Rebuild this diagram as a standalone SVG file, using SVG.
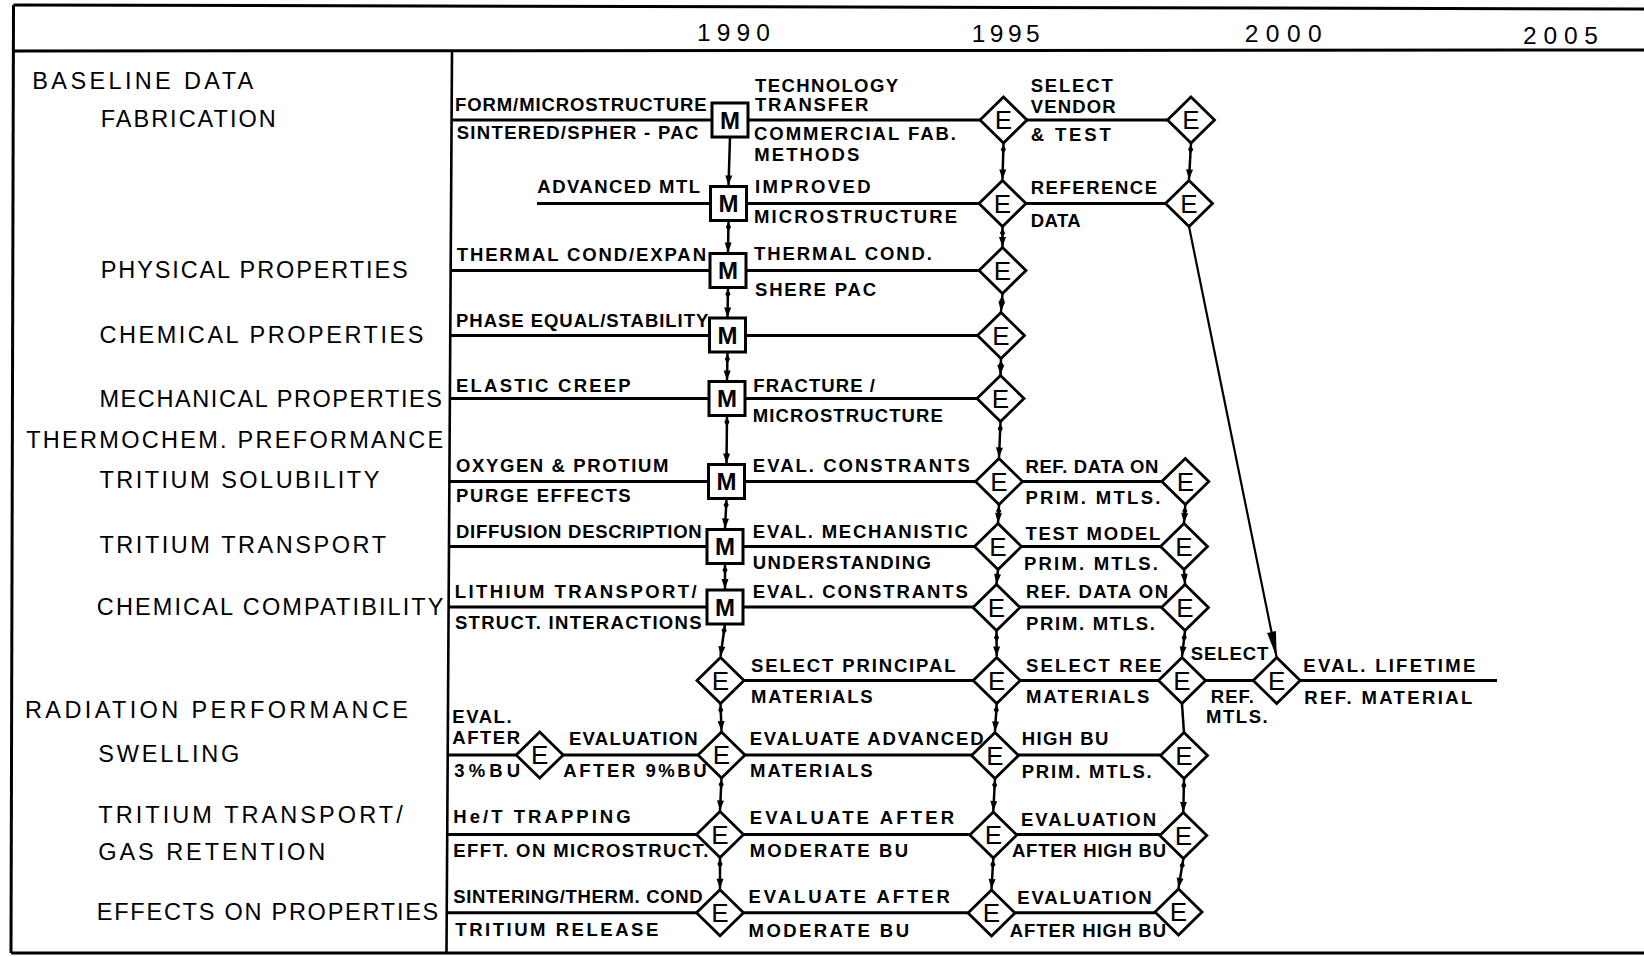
<svg xmlns="http://www.w3.org/2000/svg" width="1644" height="957" viewBox="0 0 1644 957">
<defs>
<style>
.frame{stroke:#000;stroke-width:3;fill:none}
.row{stroke:#000;stroke-width:3;fill:none}
.vc{stroke:#000;stroke-width:2.5;fill:none;marker-start:url(#tail);marker-end:url(#arrow)}
.vc-a{stroke:#000;stroke-width:2.5;fill:none;marker-end:url(#arrow)}
.vc-p{stroke:#000;stroke-width:2.5;fill:none}
.diag{stroke:#000;stroke-width:2.2;fill:none;marker-end:url(#arrowLong)}
.box{fill:#fff;stroke:#000;stroke-width:3}
.dia{fill:#fff;stroke:#000;stroke-width:2.8;stroke-linejoin:miter}
text{font-family:"Liberation Sans",Arial,sans-serif;fill:#000}
.yr{font-size:24.5px}
.cat{font-size:23.5px}
.lbl{font-size:18.5px;font-weight:bold}
.nm{font-size:24px;font-weight:bold;text-anchor:middle}
.ne{font-size:26px;text-anchor:middle}
</style>
<marker id="arrow" markerUnits="userSpaceOnUse" orient="auto" refX="10" refY="0" markerWidth="12" markerHeight="10" overflow="visible">
<path d="M0,-3.5 L10,0 L0,3.5 Z" fill="#000"/>
</marker>
<marker id="tail" markerUnits="userSpaceOnUse" orient="auto" refX="-2" refY="0" markerWidth="12" markerHeight="8" overflow="visible">
<path d="M0,0 L4.5,-2.6 L9,0 L4.5,2.6 Z" fill="#000"/>
</marker>
<marker id="arrowLong" markerUnits="userSpaceOnUse" orient="auto" refX="26" refY="0" markerWidth="28" markerHeight="12" overflow="visible">
<path d="M0,-4.5 L26,0 L0,4.5 Z" fill="#000"/>
</marker>
</defs>

<rect width="1644" height="957" fill="#fff"/>

<!-- table frame -->
<g id="frame">
<line class="frame" x1="13.5" y1="5" x2="1644" y2="9"/>
<line class="frame" x1="13.5" y1="51" x2="1644" y2="50"/>
<line class="frame" x1="11" y1="953" x2="1644" y2="953"/>
<line class="frame" x1="13.5" y1="5" x2="11" y2="953"/>
<line class="frame" x1="452" y1="51" x2="446.5" y2="953" style="stroke-width:2.6"/>
</g>

<!-- time axis -->
<g id="years">
<text class="yr" x="697" y="40.5" textLength="73">1990</text>
<text class="yr" x="971.7" y="41.5" textLength="68">1995</text>
<text class="yr" x="1244.7" y="41.5" textLength="77">2000</text>
<text class="yr" x="1523" y="43.5" textLength="75">2005</text>
</g>

<!-- task categories -->
<g id="categories">
<text class="cat" x="32.3" y="89.3" textLength="221">BASELINE DATA</text>
<text class="cat" x="100.7" y="126.7" textLength="175">FABRICATION</text>
<text class="cat" x="100.7" y="278.3" textLength="307">PHYSICAL PROPERTIES</text>
<text class="cat" x="99.4" y="343" textLength="324">CHEMICAL PROPERTIES</text>
<text class="cat" x="99.4" y="406.7" textLength="342.6">MECHANICAL PROPERTIES</text>
<text class="cat" x="26.2" y="448.3" textLength="417">THERMOCHEM. PREFORMANCE</text>
<text class="cat" x="99.4" y="487.7" textLength="280">TRITIUM SOLUBILITY</text>
<text class="cat" x="99.4" y="553.3" textLength="286.6">TRITIUM TRANSPORT</text>
<text class="cat" x="96.8" y="615" textLength="346.7">CHEMICAL COMPATIBILITY</text>
<text class="cat" x="25" y="718.3" textLength="383">RADIATION PERFORMANCE</text>
<text class="cat" x="98.3" y="761.7" textLength="141">SWELLING</text>
<text class="cat" x="98.3" y="823.3" textLength="304.4">TRITIUM TRANSPORT/</text>
<text class="cat" x="98.3" y="860" textLength="227">GAS RETENTION</text>
<text class="cat" x="96.8" y="920" textLength="341.5">EFFECTS ON PROPERTIES</text>
</g>

<!-- connectors -->
<g id="connectors">
<!-- task rows -->
<line class="row" x1="451.6" y1="120" x2="1167.5" y2="120"/>
<line class="row" x1="537" y1="203.5" x2="1165.5" y2="203.5"/>
<line class="row" x1="451.2" y1="270.5" x2="979" y2="270.5"/>
<line class="row" x1="450.8" y1="335.5" x2="977.5" y2="335.5"/>
<line class="row" x1="450.5" y1="398.5" x2="977" y2="398.5"/>
<line class="row" x1="449.5" y1="481.5" x2="1161.8" y2="481.5"/>
<line class="row" x1="449" y1="546.5" x2="1160.5" y2="546.5"/>
<line class="row" x1="448.5" y1="607" x2="1161.5" y2="607"/>
<line class="row" x1="744" y1="680.5" x2="1497" y2="680.5"/>
<line class="row" x1="447.7" y1="755" x2="1160.5" y2="755"/>
<line class="row" x1="447.2" y1="834.5" x2="1159.8" y2="834.5"/>
<line class="row" x1="446.7" y1="912.7" x2="1155" y2="912.7"/>

<!-- 1990 milestone column -->
<line class="vc-a" x1="730" y1="137" x2="728.5" y2="185.5"/>
<line class="vc" x1="728.5" y1="220.5" x2="728" y2="252.5"/>
<line class="vc" x1="728" y1="287.5" x2="727.5" y2="317.5"/>
<line class="vc" x1="727.5" y1="352.5" x2="727" y2="380.5"/>
<line class="vc" x1="727" y1="415.5" x2="726.5" y2="463.5"/>
<line class="vc" x1="726.5" y1="498.5" x2="725" y2="528.5"/>
<line class="vc" x1="725" y1="563.5" x2="725" y2="589"/>
<line class="vc" x1="725" y1="624" x2="720.5" y2="656.5"/>
<line class="vc" x1="720.5" y1="703.5" x2="721.5" y2="731"/>
<line class="vc" x1="721.5" y1="778" x2="720" y2="810.5"/>
<line class="vc" x1="720" y1="857.5" x2="720" y2="888.7"/>

<!-- 1995 evaluation column -->
<line class="vc" x1="1003.5" y1="143" x2="1002.5" y2="179.5"/>
<line class="vc" x1="1002.5" y1="226.5" x2="1002.5" y2="247"/>
<line class="vc" x1="1002.5" y1="294" x2="1001" y2="311.5"/>
<line class="vc" x1="1001" y1="358.5" x2="1000.5" y2="375"/>
<line class="vc" x1="1000.5" y1="422" x2="999" y2="457.5"/>
<line class="vc" x1="999" y1="504.5" x2="998" y2="523"/>
<line class="vc" x1="998" y1="570" x2="996.5" y2="584"/>
<line class="vc" x1="996.5" y1="631" x2="996.7" y2="656.5"/>
<line class="vc" x1="996.7" y1="703.5" x2="995" y2="731.5"/>
<line class="vc" x1="995" y1="778.5" x2="993.3" y2="811"/>
<line class="vc" x1="993.3" y1="858" x2="991.5" y2="889"/>

<!-- 2000 evaluation column -->
<line class="vc" x1="1191" y1="143" x2="1189" y2="179.5"/>
<line class="vc" x1="1185.3" y1="504.5" x2="1184" y2="523"/>
<line class="vc" x1="1184" y1="570" x2="1185" y2="584"/>
<line class="vc" x1="1185" y1="631" x2="1182" y2="656.5"/>
<line class="vc-p" x1="1182" y1="704" x2="1184" y2="733"/>
<line class="vc" x1="1184" y1="779" x2="1183.3" y2="812"/>
<line class="vc" x1="1183.3" y1="859" x2="1178.5" y2="888"/>

<!-- reference data feeding lifetime evaluation -->
<line class="diag" x1="1189" y1="226.5" x2="1276.7" y2="657.5"/>
</g>

<!-- milestone nodes -->
<g id="m1" transform="translate(730,120)"><rect class="box" x="-18" y="-17" width="36" height="34"/><text class="nm" y="8.6">M</text></g>
<g id="m2" transform="translate(728.5,203.5)"><rect class="box" x="-18" y="-17" width="36" height="34"/><text class="nm" y="8.6">M</text></g>
<g id="m3" transform="translate(728,270.5)"><rect class="box" x="-18" y="-17" width="36" height="34"/><text class="nm" y="8.6">M</text></g>
<g id="m4" transform="translate(727.5,335)"><rect class="box" x="-18" y="-17" width="36" height="34"/><text class="nm" y="8.6">M</text></g>
<g id="m5" transform="translate(727,398.5)"><rect class="box" x="-18" y="-17" width="36" height="34"/><text class="nm" y="8.6">M</text></g>
<g id="m6" transform="translate(726.5,481.5)"><rect class="box" x="-18" y="-17" width="36" height="34"/><text class="nm" y="8.6">M</text></g>
<g id="m7" transform="translate(725,546.5)"><rect class="box" x="-18" y="-17" width="36" height="34"/><text class="nm" y="8.6">M</text></g>
<g id="m8" transform="translate(725,607)"><rect class="box" x="-18" y="-17" width="36" height="34"/><text class="nm" y="8.6">M</text></g>

<!-- evaluation nodes, 1990 column -->
<g id="e9a" transform="translate(720.5,680.5)"><polygon class="dia" points="0,-23 23.5,0 0,23 -23.5,0"/><text class="ne" y="9.3">E</text></g>
<g id="e10a" transform="translate(721.5,755)"><polygon class="dia" points="0,-23 23.5,0 0,23 -23.5,0"/><text class="ne" y="9.3">E</text></g>
<g id="e11a" transform="translate(720,834.5)"><polygon class="dia" points="0,-23 23.5,0 0,23 -23.5,0"/><text class="ne" y="9.3">E</text></g>
<g id="e12a" transform="translate(720,912.7)"><polygon class="dia" points="0,-23 23.5,0 0,23 -23.5,0"/><text class="ne" y="9.3">E</text></g>
<g id="e10s" transform="translate(539.7,755)"><polygon class="dia" points="0,-23 23.5,0 0,23 -23.5,0"/><text class="ne" y="9.3">E</text></g>

<!-- evaluation nodes, 1995 column -->
<g id="e1b" transform="translate(1003.5,120)"><polygon class="dia" points="0,-23 23.5,0 0,23 -23.5,0"/><text class="ne" y="9.3">E</text></g>
<g id="e2b" transform="translate(1002.5,203.5)"><polygon class="dia" points="0,-23 23.5,0 0,23 -23.5,0"/><text class="ne" y="9.3">E</text></g>
<g id="e3b" transform="translate(1002.5,270.5)"><polygon class="dia" points="0,-23 23.5,0 0,23 -23.5,0"/><text class="ne" y="9.3">E</text></g>
<g id="e4b" transform="translate(1001,335.5)"><polygon class="dia" points="0,-23 23.5,0 0,23 -23.5,0"/><text class="ne" y="9.3">E</text></g>
<g id="e5b" transform="translate(1000.5,398.5)"><polygon class="dia" points="0,-23 23.5,0 0,23 -23.5,0"/><text class="ne" y="9.3">E</text></g>
<g id="e6b" transform="translate(999,481.5)"><polygon class="dia" points="0,-23 23.5,0 0,23 -23.5,0"/><text class="ne" y="9.3">E</text></g>
<g id="e7b" transform="translate(998,546.5)"><polygon class="dia" points="0,-23 23.5,0 0,23 -23.5,0"/><text class="ne" y="9.3">E</text></g>
<g id="e8b" transform="translate(996.5,607.5)"><polygon class="dia" points="0,-23 23.5,0 0,23 -23.5,0"/><text class="ne" y="9.3">E</text></g>
<g id="e9b" transform="translate(996.7,680.5)"><polygon class="dia" points="0,-23 23.5,0 0,23 -23.5,0"/><text class="ne" y="9.3">E</text></g>
<g id="e10b" transform="translate(995,755.5)"><polygon class="dia" points="0,-23 23.5,0 0,23 -23.5,0"/><text class="ne" y="9.3">E</text></g>
<g id="e11b" transform="translate(993.3,835)"><polygon class="dia" points="0,-23 23.5,0 0,23 -23.5,0"/><text class="ne" y="9.3">E</text></g>
<g id="e12b" transform="translate(991.5,913)"><polygon class="dia" points="0,-23 23.5,0 0,23 -23.5,0"/><text class="ne" y="9.3">E</text></g>

<!-- evaluation nodes, 2000 column -->
<g id="e1c" transform="translate(1191,120)"><polygon class="dia" points="0,-23 23.5,0 0,23 -23.5,0"/><text class="ne" y="9.3">E</text></g>
<g id="e2c" transform="translate(1189,203.5)"><polygon class="dia" points="0,-23 23.5,0 0,23 -23.5,0"/><text class="ne" y="9.3">E</text></g>
<g id="e6c" transform="translate(1185.3,481.5)"><polygon class="dia" points="0,-23 23.5,0 0,23 -23.5,0"/><text class="ne" y="9.3">E</text></g>
<g id="e7c" transform="translate(1184,546.5)"><polygon class="dia" points="0,-23 23.5,0 0,23 -23.5,0"/><text class="ne" y="9.3">E</text></g>
<g id="e8c" transform="translate(1185,607.5)"><polygon class="dia" points="0,-23 23.5,0 0,23 -23.5,0"/><text class="ne" y="9.3">E</text></g>
<g id="e9c" transform="translate(1182,680.5)"><polygon class="dia" points="0,-23 23.5,0 0,23 -23.5,0"/><text class="ne" y="9.3">E</text></g>
<g id="e10c" transform="translate(1184,755.5)"><polygon class="dia" points="0,-23 23.5,0 0,23 -23.5,0"/><text class="ne" y="9.3">E</text></g>
<g id="e11c" transform="translate(1183.3,835.5)"><polygon class="dia" points="0,-23 23.5,0 0,23 -23.5,0"/><text class="ne" y="9.3">E</text></g>
<g id="e12c" transform="translate(1178.5,912)"><polygon class="dia" points="0,-23 23.5,0 0,23 -23.5,0"/><text class="ne" y="9.3">E</text></g>
<g id="e9d" transform="translate(1276.7,680.5)"><polygon class="dia" points="0,-23 23.5,0 0,23 -23.5,0"/><text class="ne" y="9.3">E</text></g>

<!-- task labels along the rows -->
<g id="labels">
<text class="lbl" x="455" y="110.7" textLength="251.7">FORM/MICROSTRUCTURE</text>
<text class="lbl" x="456.7" y="139" textLength="241.7">SINTERED/SPHER - PAC</text>
<text class="lbl" x="755" y="91.7" textLength="143">TECHNOLOGY</text>
<text class="lbl" x="755" y="111" textLength="113.3">TRANSFER</text>
<text class="lbl" x="754" y="140" textLength="202">COMMERCIAL FAB.</text>
<text class="lbl" x="754.3" y="161" textLength="105">METHODS</text>
<text class="lbl" x="1030.7" y="92" textLength="82">SELECT</text>
<text class="lbl" x="1030.7" y="112.7" textLength="85">VENDOR</text>
<text class="lbl" x="1030.7" y="140.7" textLength="80">&amp; TEST</text>

<text class="lbl" x="537.3" y="192.7" textLength="162.7">ADVANCED MTL</text>
<text class="lbl" x="755" y="192.7" textLength="115.7">IMPROVED</text>
<text class="lbl" x="754" y="223" textLength="203">MICROSTRUCTURE</text>
<text class="lbl" x="1030.7" y="194" textLength="126.3">REFERENCE</text>
<text class="lbl" x="1030.7" y="226.7" textLength="50">DATA</text>

<text class="lbl" x="456.7" y="261" textLength="249.3">THERMAL COND/EXPAN</text>
<text class="lbl" x="754" y="260" textLength="178">THERMAL COND.</text>
<text class="lbl" x="755" y="295.7" textLength="121">SHERE PAC</text>

<text class="lbl" x="456" y="326.7" textLength="252.3">PHASE EQUAL/STABILITY</text>

<text class="lbl" x="456" y="391.7" textLength="174.7">ELASTIC CREEP</text>
<text class="lbl" x="753.3" y="391.7" textLength="121.7">FRACTURE /</text>
<text class="lbl" x="752.8" y="421.7" textLength="190">MICROSTRUCTURE</text>

<text class="lbl" x="456" y="472.3" textLength="212.3">OXYGEN &amp; PROTIUM</text>
<text class="lbl" x="456" y="502.3" textLength="174.7">PURGE EFFECTS</text>
<text class="lbl" x="752.8" y="472" textLength="217">EVAL. CONSTRANTS</text>
<text class="lbl" x="1025.4" y="473.3" textLength="133">REF. DATA ON</text>
<text class="lbl" x="1025.4" y="504" textLength="135">PRIM. MTLS.</text>

<text class="lbl" x="456" y="538.3" textLength="245.7">DIFFUSION DESCRIPTION</text>
<text class="lbl" x="752.8" y="538.3" textLength="215">EVAL. MECHANISTIC</text>
<text class="lbl" x="752.8" y="569" textLength="178">UNDERSTANDING</text>
<text class="lbl" x="1025.4" y="540" textLength="135">TEST MODEL</text>
<text class="lbl" x="1024" y="570" textLength="134">PRIM. MTLS.</text>

<text class="lbl" x="454.7" y="598.3" textLength="242">LITHIUM TRANSPORT/</text>
<text class="lbl" x="455" y="629" textLength="246.5">STRUCT. INTERACTIONS</text>
<text class="lbl" x="752.8" y="598.3" textLength="215">EVAL. CONSTRANTS</text>
<text class="lbl" x="1026" y="598.3" textLength="142">REF. DATA ON</text>
<text class="lbl" x="1026" y="630" textLength="129">PRIM. MTLS.</text>

<text class="lbl" x="751" y="671.7" textLength="204.5">SELECT PRINCIPAL</text>
<text class="lbl" x="751" y="702.7" textLength="121.7">MATERIALS</text>
<text class="lbl" x="1026" y="671.7" textLength="135.7">SELECT REE</text>
<text class="lbl" x="1026" y="703.3" textLength="123.3">MATERIALS</text>
<text class="lbl" x="1190.7" y="660" textLength="77.7">SELECT</text>
<text class="lbl" x="1210.7" y="703.3" textLength="43.3">REF.</text>
<text class="lbl" x="1206" y="723.3" textLength="61.7">MTLS.</text>
<text class="lbl" x="1303.3" y="671.7" textLength="172">EVAL. LIFETIME</text>
<text class="lbl" x="1304.3" y="704" textLength="168">REF. MATERIAL</text>

<text class="lbl" x="452.3" y="722.7" textLength="59.3">EVAL.</text>
<text class="lbl" x="452.3" y="744" textLength="67.7">AFTER</text>
<text class="lbl" x="454.3" y="776.7" textLength="65.7">3%BU</text>
<text class="lbl" x="569" y="745" textLength="128.7">EVALUATION</text>
<text class="lbl" x="563.3" y="776.7" textLength="143.3">AFTER 9%BU</text>
<text class="lbl" x="749.7" y="745" textLength="233.8">EVALUATE ADVANCED</text>
<text class="lbl" x="750" y="777.3" textLength="122.7">MATERIALS</text>
<text class="lbl" x="1021.7" y="745" textLength="86.7">HIGH BU</text>
<text class="lbl" x="1021.7" y="778.3" textLength="130">PRIM. MTLS.</text>

<text class="lbl" x="453.3" y="823.3" textLength="177.3">He/T TRAPPING</text>
<text class="lbl" x="453.3" y="857.3" textLength="255">EFFT. ON MICROSTRUCT.</text>
<text class="lbl" x="749.7" y="824" textLength="204.5">EVALUATE AFTER</text>
<text class="lbl" x="749.7" y="857.3" textLength="158.3">MODERATE BU</text>
<text class="lbl" x="1021" y="825.7" textLength="135">EVALUATION</text>
<text class="lbl" x="1012" y="857.3" textLength="154">AFTER HIGH BU</text>

<text class="lbl" x="453.3" y="902.7" textLength="249.3">SINTERING/THERM. COND</text>
<text class="lbl" x="455.3" y="936" textLength="203">TRITIUM RELEASE</text>
<text class="lbl" x="748.6" y="903.3" textLength="201.3">EVALUATE AFTER</text>
<text class="lbl" x="748.6" y="936.7" textLength="160.4">MODERATE BU</text>
<text class="lbl" x="1017.3" y="904" textLength="134.3">EVALUATION</text>
<text class="lbl" x="1009.7" y="937" textLength="156.3">AFTER HIGH BU</text>
</g>
</svg>
